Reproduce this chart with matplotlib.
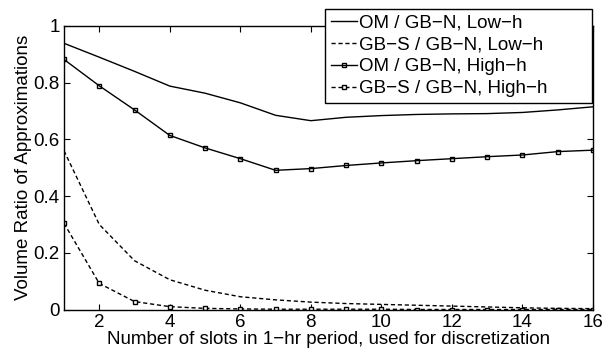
import matplotlib
matplotlib.use("Agg")
import matplotlib.pyplot as plt

plt.rcParams['font.family'] = ['Liberation Sans', 'DejaVu Sans']

slots = list(range(1, 17))
om_low = [0.939, 0.89, 0.84, 0.788, 0.763, 0.729, 0.685, 0.666, 0.678, 0.684, 0.688, 0.69, 0.691, 0.695, 0.704, 0.715]
gbs_low = [0.56, 0.30, 0.172, 0.105, 0.068, 0.045, 0.034, 0.026, 0.021, 0.018, 0.015, 0.012, 0.009, 0.006, 0.004, 0.003]
om_high = [0.882, 0.789, 0.704, 0.614, 0.570, 0.532, 0.491, 0.497, 0.508, 0.517, 0.525, 0.532, 0.539, 0.545, 0.557, 0.562]
gbs_high = [0.304, 0.092, 0.028, 0.010, 0.004, 0.002, 0.001, 0.001, 0.001, 0.001, 0.0, 0.0, 0.0, 0.0, 0.0, 0.0]

labels = ['OM / GB\u2212N, Low\u2212h', 'GB\u2212S / GB\u2212N, Low\u2212h',
          'OM / GB\u2212N, High\u2212h', 'GB\u2212S / GB\u2212N, High\u2212h']
xticks = [2, 4, 6, 8, 10, 12, 14, 16]
yticks = [0, 0.2, 0.4, 0.6, 0.8, 1]
yticklabels = ['0', '0.2', '0.4', '0.6', '0.8', '1']

FS = 13.5
fig = plt.figure(figsize=(6.16, 3.48), dpi=100)
ax = fig.add_axes([64/616, 1 - 309.5/348, (593 - 64)/616, (309.5 - 26)/348])

lw = 1.0
ax.plot(slots, om_low, '-', color='black', lw=lw, label=labels[0])
ax.plot(slots, gbs_low, '--', color='black', lw=lw, dashes=(3, 2), label=labels[1])
ax.plot(slots, om_high, '-', color='black', lw=lw, marker='s', ms=3.2, mfc='none', mew=1.0, label=labels[2])
ax.plot(slots, gbs_high, '--', color='black', lw=lw, dashes=(3, 2), marker='s', ms=3.2, mfc='white', mew=1.0, label=labels[3])

ax.set_xlim(1, 16)
ax.set_ylim(0, 1)
ax.set_xticks(xticks)
ax.set_yticks(yticks)
ax.set_yticklabels(yticklabels)
ax.tick_params(direction='in', top=True, right=True, labelsize=FS, length=4)
ax.tick_params(axis='x', pad=3)
ax.tick_params(axis='y', pad=3)
for s in ax.spines.values():
    s.set_linewidth(1.0)

ax.set_xlabel('Number of slots in 1\u2212hr period, used for discretization', fontsize=FS, labelpad=0)
ax.set_ylabel('Volume Ratio of Approximations', fontsize=FS, labelpad=1)

x0, x1 = 325/616, 592/616
ytop = 1 - 9/348
leg = fig.legend(loc='upper left', bbox_to_anchor=(x0, ytop - 0.3, x1 - x0, 0.3), mode='expand',
                 fontsize=FS, frameon=True, fancybox=False, edgecolor='black', framealpha=1,
                 handlelength=1.4, handletextpad=0.1, borderpad=0.3, labelspacing=0.25,
                 borderaxespad=0)
leg.get_frame().set_linewidth(1.0)

fig.savefig('out.png', dpi=100)
